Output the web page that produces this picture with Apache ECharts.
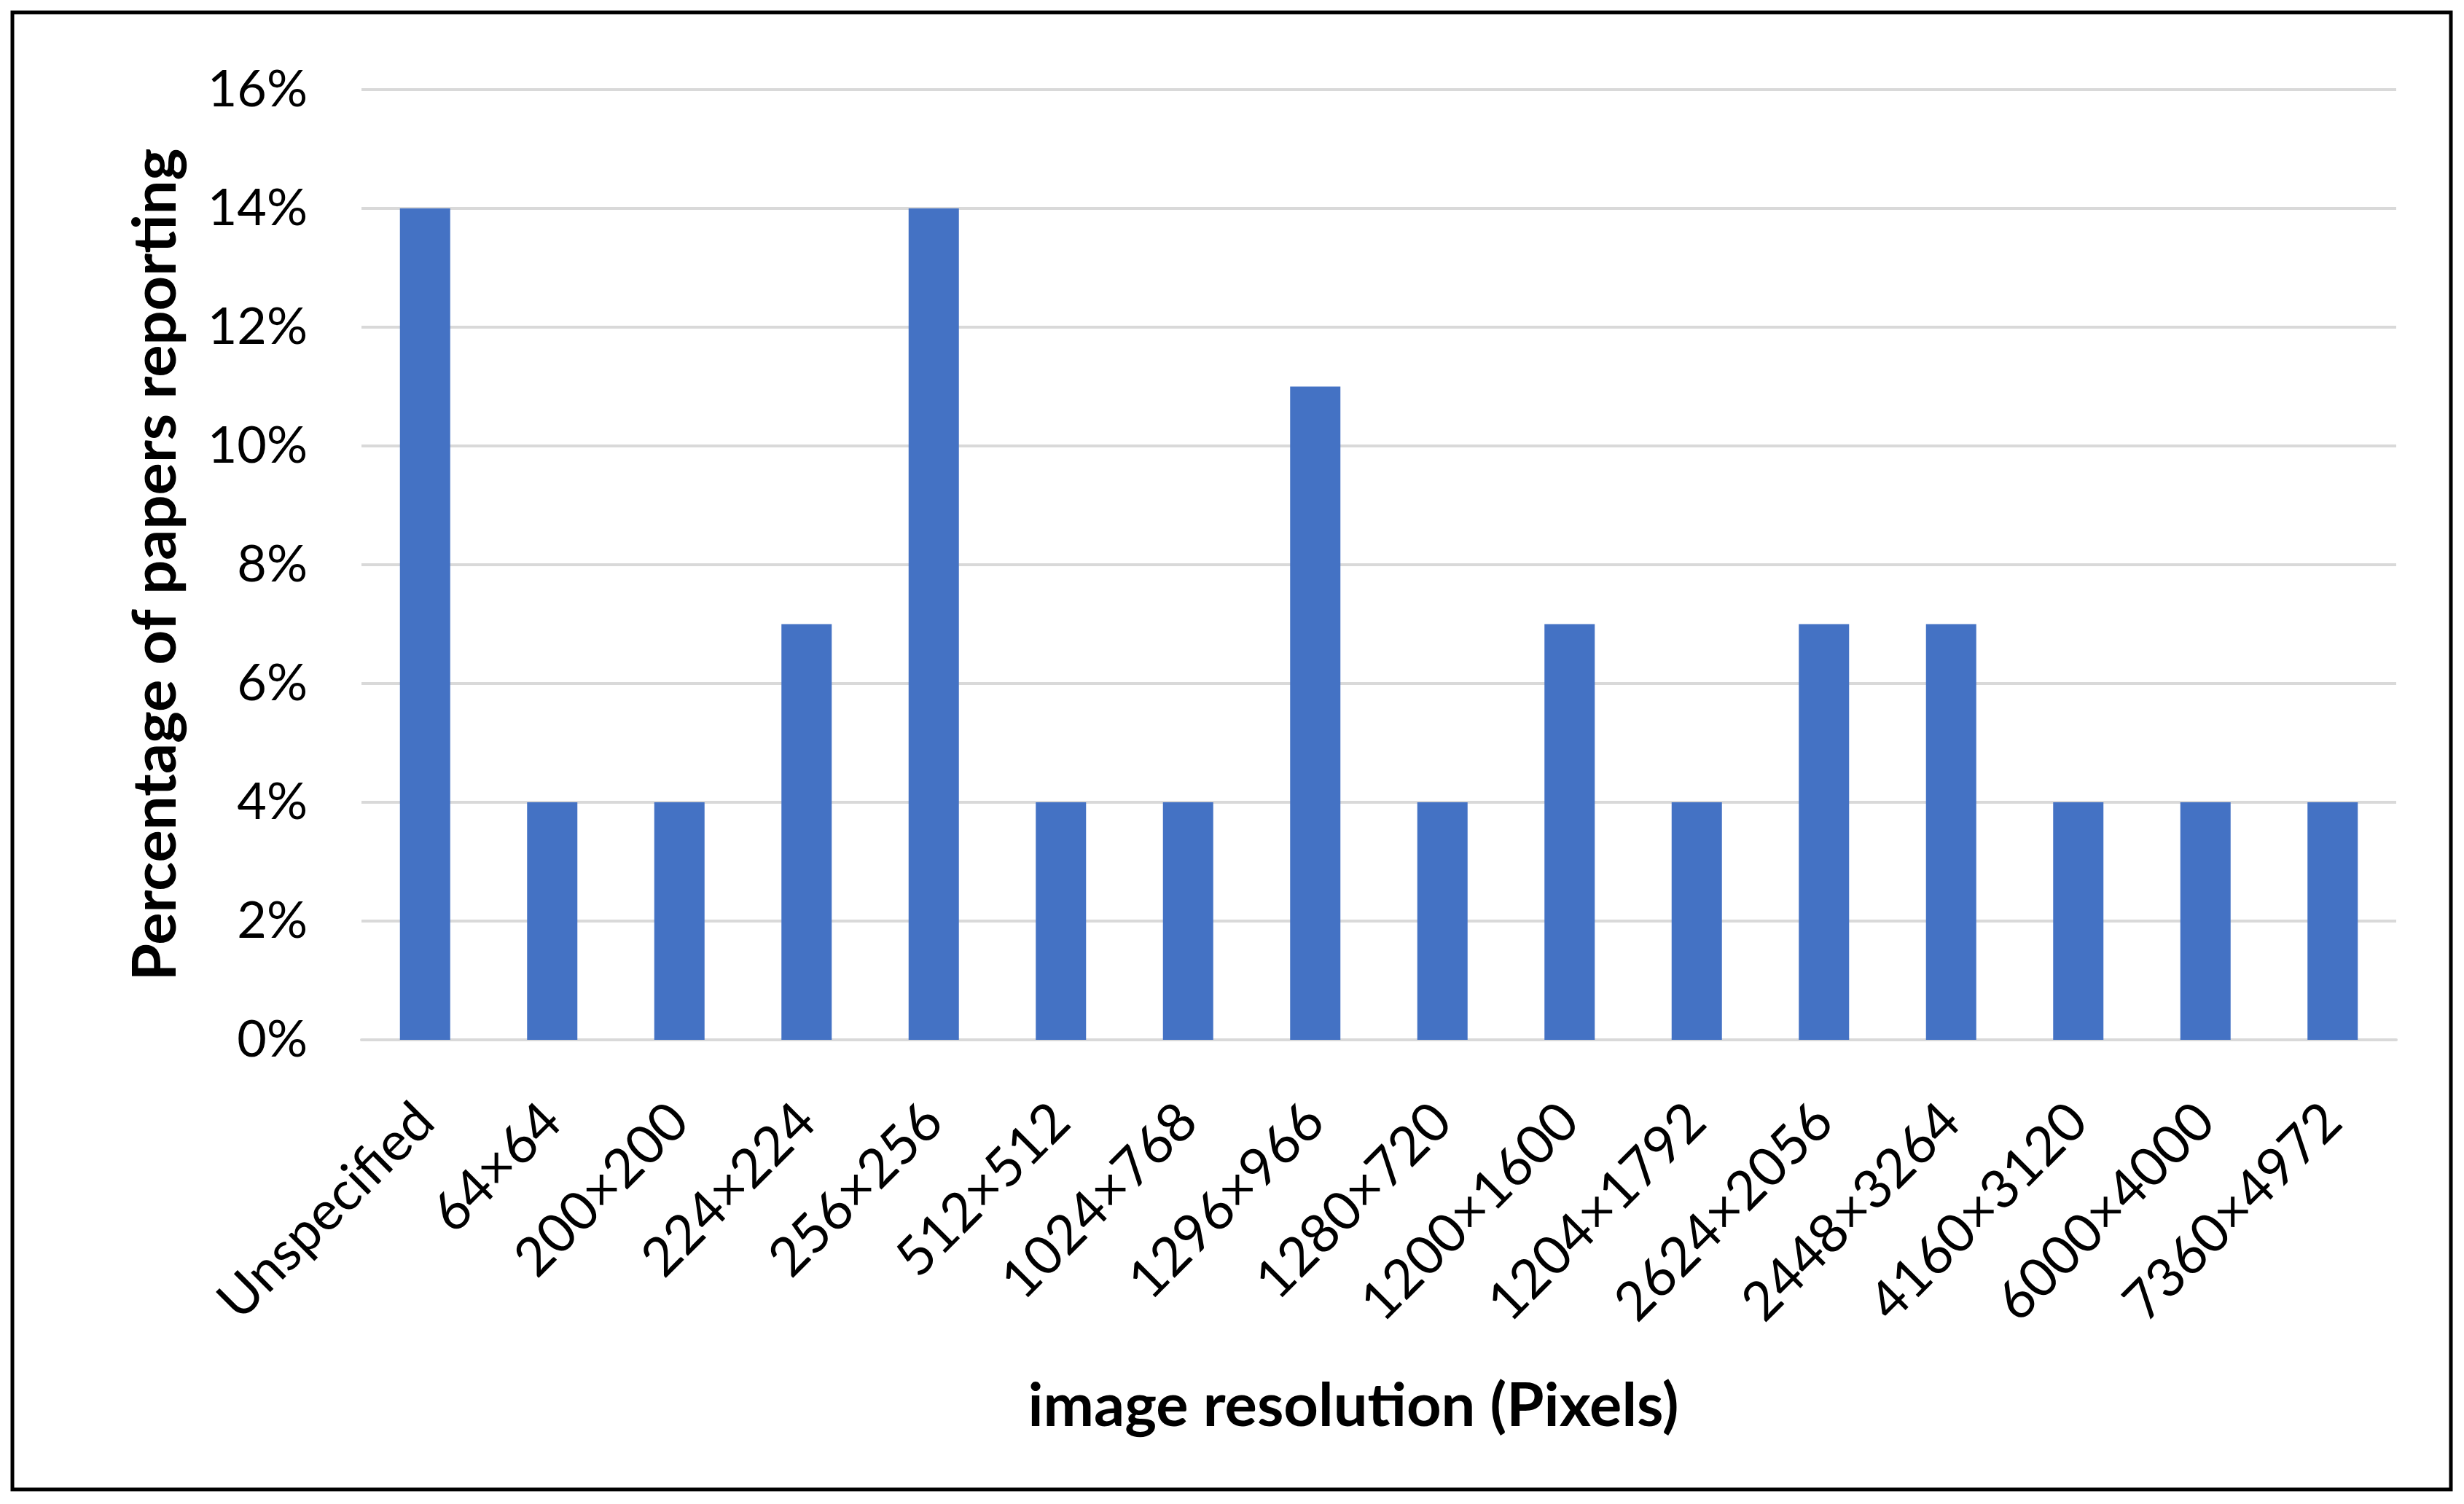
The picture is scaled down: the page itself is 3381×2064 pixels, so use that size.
<!DOCTYPE html>
<html>
<head>
<meta charset="utf-8">
<script src="https://cdn.jsdelivr.net/npm/echarts@6/dist/echarts.min.js"></script>
<style>
  html, body { margin: 0; padding: 0; background: #fff; }
  #chart { width: 3381px; height: 2064px; }
</style>
</head>
<body>
<div id="chart"></div>
<script>
// categories on the x axis
var resolutions = ['Unspecified', '64\u00d764', '200\u00d7200', '224\u00d7224', '256\u00d7256',
  '512\u00d7512', '1024\u00d7768', '1296\u00d7966', '1280\u00d7720', '1200\u00d71600',
  '1204\u00d71792', '2624\u00d72056', '2448\u00d73264', '4160\u00d73120', '6000\u00d74000',
  '7360\u00d74972'];
// percentage of papers reporting each resolution
var percentages = [14, 4, 4, 7, 14, 4, 4, 11, 4, 7, 4, 7, 7, 4, 4, 4];
var yMax = 16;
var yStep = 2;

var chart = echarts.init(document.getElementById('chart'), null, { renderer: 'canvas' });

chart.setOption({
  backgroundColor: '#ffffff',
  textStyle: { fontFamily: 'Lato, "Noto Sans", sans-serif' },
  // black frame around the whole figure
  graphic: [{
    type: 'rect',
    shape: { x: 17, y: 17, width: 3346, height: 2027 },
    style: { fill: 'none', stroke: '#000', lineWidth: 5 },
    silent: true
  }],
  grid: {
    left: 496,
    right: 93,
    top: 123,
    bottom: 637,
    containLabel: false
  },
  xAxis: {
    type: 'category',
    data: resolutions,
    name: 'image resolution (Pixels)',
    nameLocation: 'middle',
    nameGap: 462,
    nameTextStyle: { fontSize: 83, fontWeight: 'bold', color: '#000', padding: [0, 70, 0, 0] },
    axisLine: { show: true, lineStyle: { color: '#d9d9d9', width: 4 } },
    axisTick: { show: false },
    axisLabel: {
      interval: 0,
      rotate: 45,
      margin: 100,
      fontSize: 74,
      color: '#000'
    },
    splitLine: { show: false }
  },
  yAxis: {
    type: 'value',
    min: 0,
    max: yMax,
    interval: yStep,
    name: 'Percentage of papers reporting',
    nameLocation: 'middle',
    nameGap: 240,
    nameRotate: 90,
    nameTextStyle: { fontSize: 83, fontWeight: 'bold', color: '#000' },
    axisLine: { show: false },
    axisTick: { show: false },
    axisLabel: {
      formatter: '{value}%',
      margin: 74,
      fontSize: 70,
      color: '#000'
    },
    splitLine: { show: true, lineStyle: { color: '#d9d9d9', width: 4 } }
  },
  series: [{
    type: 'bar',
    data: percentages,
    barWidth: 69,
    itemStyle: { color: '#4472c4' },
    animation: false
  }],
  animation: false
});
</script>
</body>
</html>
